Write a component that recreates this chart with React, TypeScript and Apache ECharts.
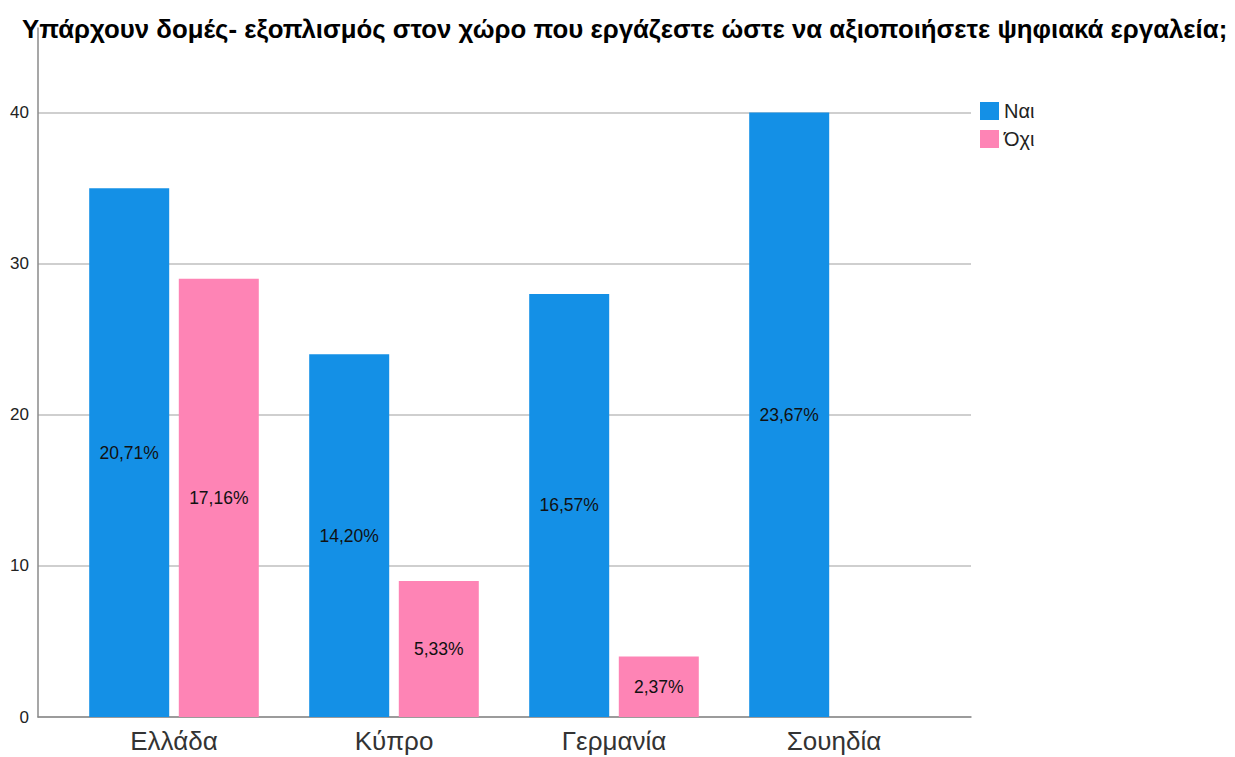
import React, { useEffect, useRef } from "react";
import * as echarts from "echarts";

const categories = ["Ελλάδα", "Κύπρο", "Γερμανία", "Σουηδία"];
const yesValues = [35, 24, 28, 40];
const noValues = [29, 9, 4, 0];
const seriesNames = ["Ναι", "Όχι"];
const yTicks = [0, 10, 20, 30, 40];
const titleText =
  "Υπάρχουν δομές- εξοπλισμός στον χώρο που εργάζεστε ώστε να αξιοποιήσετε ψηφιακά εργαλεία;";

const total = [...yesValues, ...noValues].reduce((a, b) => a + b, 0);
const pct = (v: number) => (v === 0 ? "" : ((v / total) * 100).toFixed(2).replace(".", ",") + "%");

const FONT = "'Liberation Sans', Arial, sans-serif";
const Y_MAX = 45.6;

export default function App() {
  const ref = useRef<HTMLDivElement>(null);
  useEffect(() => {
    if (!ref.current) return;
    const chart = echarts.init(ref.current, undefined, { renderer: "svg" });
    const nTicks = yTicks.length + 1;
    const gridColors = Array.from({ length: nTicks }, (_, i) =>
      i < yTicks.length ? "#cfcfcf" : "rgba(0,0,0,0)"
    );
    const labelStyle = {
      show: true,
      position: "inside" as const,
      color: "#111",
      fontFamily: FONT,
      fontSize: 17.5,
      formatter: (p: any) => pct(p.value),
    };
    chart.setOption({
      animation: false,
      backgroundColor: "#ffffff",
      title: {
        text: titleText,
        left: 17,
        top: 11,
        textStyle: { fontFamily: FONT, fontSize: 25.8, fontWeight: "bold", color: "#000" },
      },
      legend: {
        data: seriesNames,
        orient: "vertical",
        left: 975,
        top: 96,
        itemWidth: 19,
        itemHeight: 18,
        itemGap: 8,
        icon: "rect",
        textStyle: { fontFamily: FONT, fontSize: 20, color: "#222", padding: [0, 0, 0, 0] },
      },
      grid: [
        { left: 38, right: 264, top: 28, bottom: 40 },
        { left: 64, right: 291, top: 28, bottom: 40 },
      ],
      xAxis: [
        {
          gridIndex: 0,
          type: "value",
          min: 0,
          max: 1,
          axisLine: { show: true, onZero: false, lineStyle: { color: "#8a8a8a", width: 1.5 } },
          axisTick: { show: false },
          axisLabel: { show: false },
          splitLine: { show: false },
        },
        {
          gridIndex: 1,
          type: "category",
          data: categories,
          axisLine: { show: false },
          axisTick: { show: false },
          axisLabel: { fontFamily: FONT, fontSize: 26, color: "#333", margin: 11 },
        },
      ],
      yAxis: [
        {
          gridIndex: 0,
          type: "value",
          min: 0,
          max: Y_MAX,
          interval: 10,
          axisLine: { show: true, lineStyle: { color: "#8a8a8a", width: 1.5 } },
          axisTick: { show: false },
          axisLabel: {
            fontFamily: FONT,
            fontSize: 17,
            color: "#222",
            margin: 9,
            formatter: (v: number) => (yTicks.includes(v) ? String(v) : ""),
          },
          splitLine: { show: true, lineStyle: { color: gridColors, width: 2 } },
        },
        {
          gridIndex: 1,
          type: "value",
          min: 0,
          max: Y_MAX,
          show: false,
          splitLine: { show: false },
        },
      ],
      series: [
        {
          name: seriesNames[0],
          type: "bar",
          xAxisIndex: 1,
          yAxisIndex: 1,
          data: yesValues,
          barWidth: 80,
          barGap: "12%",
          itemStyle: { color: "#1490e6" },
          label: labelStyle,
        },
        {
          name: seriesNames[1],
          type: "bar",
          xAxisIndex: 1,
          yAxisIndex: 1,
          data: noValues,
          barWidth: 80,
          barGap: "12%",
          itemStyle: { color: "#fe84b5" },
          label: labelStyle,
        },
      ],
    });
    return () => chart.dispose();
  }, []);
  return (
    <div
      ref={ref}
      style={{ position: "absolute", left: 0, top: 0, width: 1235, height: 757 }}
    />
  );
}
